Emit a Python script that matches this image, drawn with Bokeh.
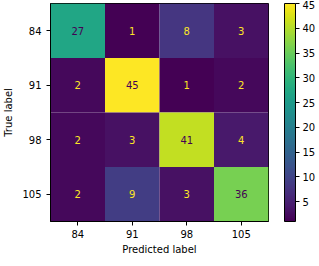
from bokeh.plotting import figure
from bokeh.models import ColumnDataSource, LinearColorMapper, ColorBar, FixedTicker
from bokeh.transform import transform
from bokeh.palettes import Viridis256
from bokeh.embed import file_html
from bokeh.resources import INLINE
from bokeh.core.properties import value

labels = ["84", "91", "98", "105"]
matrix = [
    [27, 1, 8, 3],
    [2, 45, 1, 2],
    [2, 3, 41, 4],
    [2, 9, 3, 36],
]
cbar_ticks = [5, 10, 15, 20, 25, 30, 35, 40, 45]

vmin = min(min(r) for r in matrix)
vmax = max(max(r) for r in matrix)
thresh = (vmin + vmax) / 2.0

xs, ys, vals, txt, tcol = [], [], [], [], []
for i, t in enumerate(labels):
    for j, pch in enumerate(labels):
        v = matrix[i][j]
        xs.append(pch)
        ys.append(t)
        vals.append(v)
        txt.append(str(v))
        tcol.append("#440154" if v > thresh else "#fde725")

src = ColumnDataSource(dict(x=xs, y=ys, v=vals, t=txt, c=tcol))
mapper = LinearColorMapper(palette=Viridis256, low=vmin, high=vmax)

FONT = "DejaVu Sans"

p = figure(x_range=labels, y_range=list(reversed(labels)),
           frame_width=218, frame_height=218,
           min_border_left=0, min_border_top=3, min_border_right=0, min_border_bottom=0,
           output_backend="svg", toolbar_location=None,
           x_axis_label="Predicted label", y_axis_label="True label")

p.rect(x="x", y="y", width=1, height=1, source=src,
       fill_color=transform("v", mapper), line_color=None)
p.text(x="x", y="y", text="t", source=src, text_color="c",
       text_align="center", text_baseline="middle",
       text_font=value(FONT), text_font_size="10px")

p.grid.visible = False
p.outline_line_color = "black"
p.outline_line_width = 1
for ax in (p.xaxis[0], p.yaxis[0]):
    ax.axis_line_color = "black"
    ax.major_tick_line_color = "black"
    ax.major_tick_out = 4
    ax.major_tick_in = 0
    ax.minor_tick_line_color = None
    ax.major_label_text_font = FONT
    ax.major_label_text_font_size = "10px"
    ax.major_label_text_color = "#000000"
    ax.axis_label_text_font = FONT
    ax.axis_label_text_font_size = "10px"
    ax.axis_label_text_font_style = "normal"
    ax.axis_label_text_color = "#000000"
p.xaxis.major_label_standoff = 4
p.yaxis.major_label_standoff = 5
p.xaxis.axis_label_standoff = 3
p.yaxis.axis_label_standoff = 5

cb = ColorBar(color_mapper=mapper, ticker=FixedTicker(ticks=cbar_ticks),
              width=11, height=218, padding=0, margin=0, location=(16, 0),
              bar_line_color="black", bar_line_width=1,
              major_tick_in=0, major_tick_out=4, major_tick_line_color="black",
              minor_tick_line_color=None, label_standoff=3,
              major_label_text_font=FONT, major_label_text_font_size="10px",
              major_label_text_color="#000000",
              background_fill_alpha=0, border_line_color=None)
p.add_layout(cb, "right")

open("out.html", "w").write(file_html(p, INLINE))
